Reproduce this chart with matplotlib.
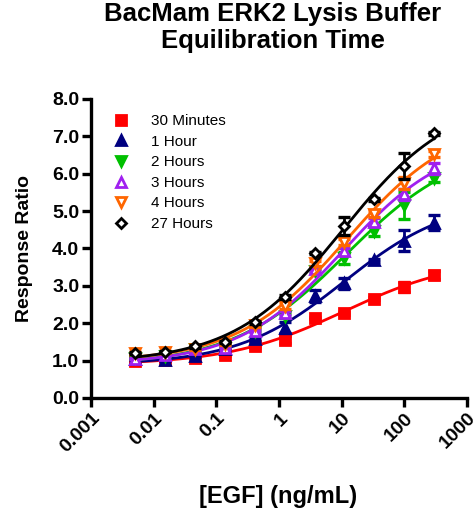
import numpy as np
import matplotlib
matplotlib.use("Agg")
import matplotlib.pyplot as plt
from matplotlib.lines import Line2D

plt.rcParams['font.family'] = ['Liberation Sans', 'DejaVu Sans']

# EGF dose (ng/mL), 3-fold dilutions from 300
egf = [0.00508, 0.0152, 0.0457, 0.137, 0.412, 1.23, 3.70, 11.1, 33.3, 100, 300]

labels = ['30 Minutes', '1 Hour', '2 Hours', '3 Hours', '4 Hours', '27 Hours']
means = [
    [1.00, 1.02, 1.08, 1.16, 1.39, 1.56, 2.14, 2.27, 2.65, 2.97, 3.29],
    [1.04, 1.02, 1.12, 1.30, 1.57, 1.88, 2.72, 3.07, 3.69, 4.21, 4.69],
    [1.07, 1.12, 1.30, 1.42, 1.80, 2.20, 3.40, 3.75, 4.48, 5.15, 5.88],
    [1.05, 1.15, 1.30, 1.35, 1.80, 2.28, 3.45, 3.92, 4.72, 5.45, 6.14],
    [1.20, 1.22, 1.32, 1.45, 1.95, 2.45, 3.60, 4.18, 4.92, 5.75, 6.52],
    [1.20, 1.24, 1.38, 1.50, 2.03, 2.70, 3.88, 4.60, 5.32, 6.20, 7.08],
]
errs = [
    [0.02, 0.03, 0.02, 0.04, 0.04, 0.10, 0.02, 0.04, 0.04, 0.14, 0.12],
    [0.02, 0.02, 0.02, 0.04, 0.04, 0.14, 0.16, 0.15, 0.04, 0.28, 0.20],
    [0.02, 0.02, 0.03, 0.03, 0.04, 0.06, 0.06, 0.16, 0.15, 0.35, 0.10],
    [0.02, 0.02, 0.03, 0.03, 0.04, 0.06, 0.06, 0.10, 0.10, 0.15, 0.15],
    [0.02, 0.02, 0.03, 0.03, 0.04, 0.06, 0.06, 0.08, 0.08, 0.15, 0.08],
    [0.02, 0.02, 0.03, 0.03, 0.04, 0.05, 0.03, 0.25, 0.04, 0.35, 0.04],
]
colors = ['#FF0000', '#000080', '#00C000', '#A020F0', '#FF6600', '#000000']
markers = ['s', '^', 'v', '^', 'v', 'D']
filled = [True, True, True, False, False, False]

xticks = [0.001, 0.01, 0.1, 1, 10, 100, 1000]
xticklabels = ['0.001', '0.01', '0.1', '1', '10', '100', '1000']


def fit_4pl(x, y):
    # grid search on logEC50 / hill, linear least squares for bottom/top
    lx = np.log10(x)
    best = None
    for c in np.linspace(-1, 4, 251):
        for h in np.linspace(0.2, 1.5, 131):
            s = 1.0 / (1.0 + 10 ** ((c - lx) * h))
            A = np.column_stack([np.ones_like(s), s])
            coef, *_ = np.linalg.lstsq(A, y, rcond=None)
            r = np.sum((A @ coef - y) ** 2)
            if best is None or r < best[0]:
                best = (r, c, h, coef)
    _, c, h, coef = best
    return lambda xx: coef[0] + coef[1] / (1.0 + 10 ** ((c - np.log10(xx)) * h))


fig = plt.figure(figsize=(4.74, 5.12), dpi=100)
ax = fig.add_axes([0.192, 0.2227, 0.793, 0.584])

x = np.array(egf)
xs = np.logspace(np.log10(x[0]), np.log10(x[-1]), 200)
handles = []
for lab, m, e, col, mk, fl in zip(labels, means, errs, colors, markers, filled):
    y = np.array(m)
    f = fit_4pl(x, y)
    ms = 6.5 if mk != 'D' else 5.5
    ax.errorbar(x, y, yerr=e, fmt='none', ecolor=col, elinewidth=2, capsize=4.5, capthick=2.4)
    ax.plot(xs, f(xs), color=col, lw=2)
    ax.plot(x, y, linestyle='none', marker=mk, markersize=ms,
            markerfacecolor=col if fl else 'white', markeredgecolor=col, markeredgewidth=2)
    handles.append(Line2D([], [], linestyle='none', marker=mk, markersize=ms,
                          markerfacecolor=col if fl else 'white', markeredgecolor=col,
                          markeredgewidth=2, label=lab))

ax.set_xscale('log')
ax.set_xlim(0.001, 1000)
ax.set_ylim(0, 8)
ax.set_xticks(xticks)
ax.set_xticklabels(xticklabels, rotation=45, ha='right', rotation_mode='anchor',
                   fontsize=14, fontweight='bold')
ax.xaxis.set_minor_locator(matplotlib.ticker.NullLocator())
ax.set_yticks(np.arange(0, 8.1, 1))
ax.set_yticklabels(['%.1f' % v for v in np.arange(0, 8.1, 1)], fontsize=14, fontweight='bold')

for s in ['top', 'right']:
    ax.spines[s].set_visible(False)
for s in ['left', 'bottom']:
    ax.spines[s].set_linewidth(2.4)
ax.tick_params(width=2.4, length=6.5, pad=2)

fig.text(278 / 474, 1 - 497 / 512, '[EGF] (ng/mL)', fontsize=17, fontweight='bold',
         ha='center', va='center')
fig.text(25 / 474, 1 - 248 / 512, 'Response Ratio', fontsize=14, fontweight='bold',
         ha='center', va='center', rotation=90)
fig.text(273 / 474, 1 - 2 / 512, 'BacMam ERK2 Lysis Buffer\nEquilibration Time', fontsize=18.5,
         fontweight='bold', ha='center', va='top', linespacing=1.15)

ax.legend(handles=handles, loc='upper left', bbox_to_anchor=(0.03, 0.985), frameon=False,
          fontsize=11, handlelength=1, handletextpad=1.5, labelspacing=0.43, borderpad=0.2)

fig.savefig('out.png', dpi=100)
